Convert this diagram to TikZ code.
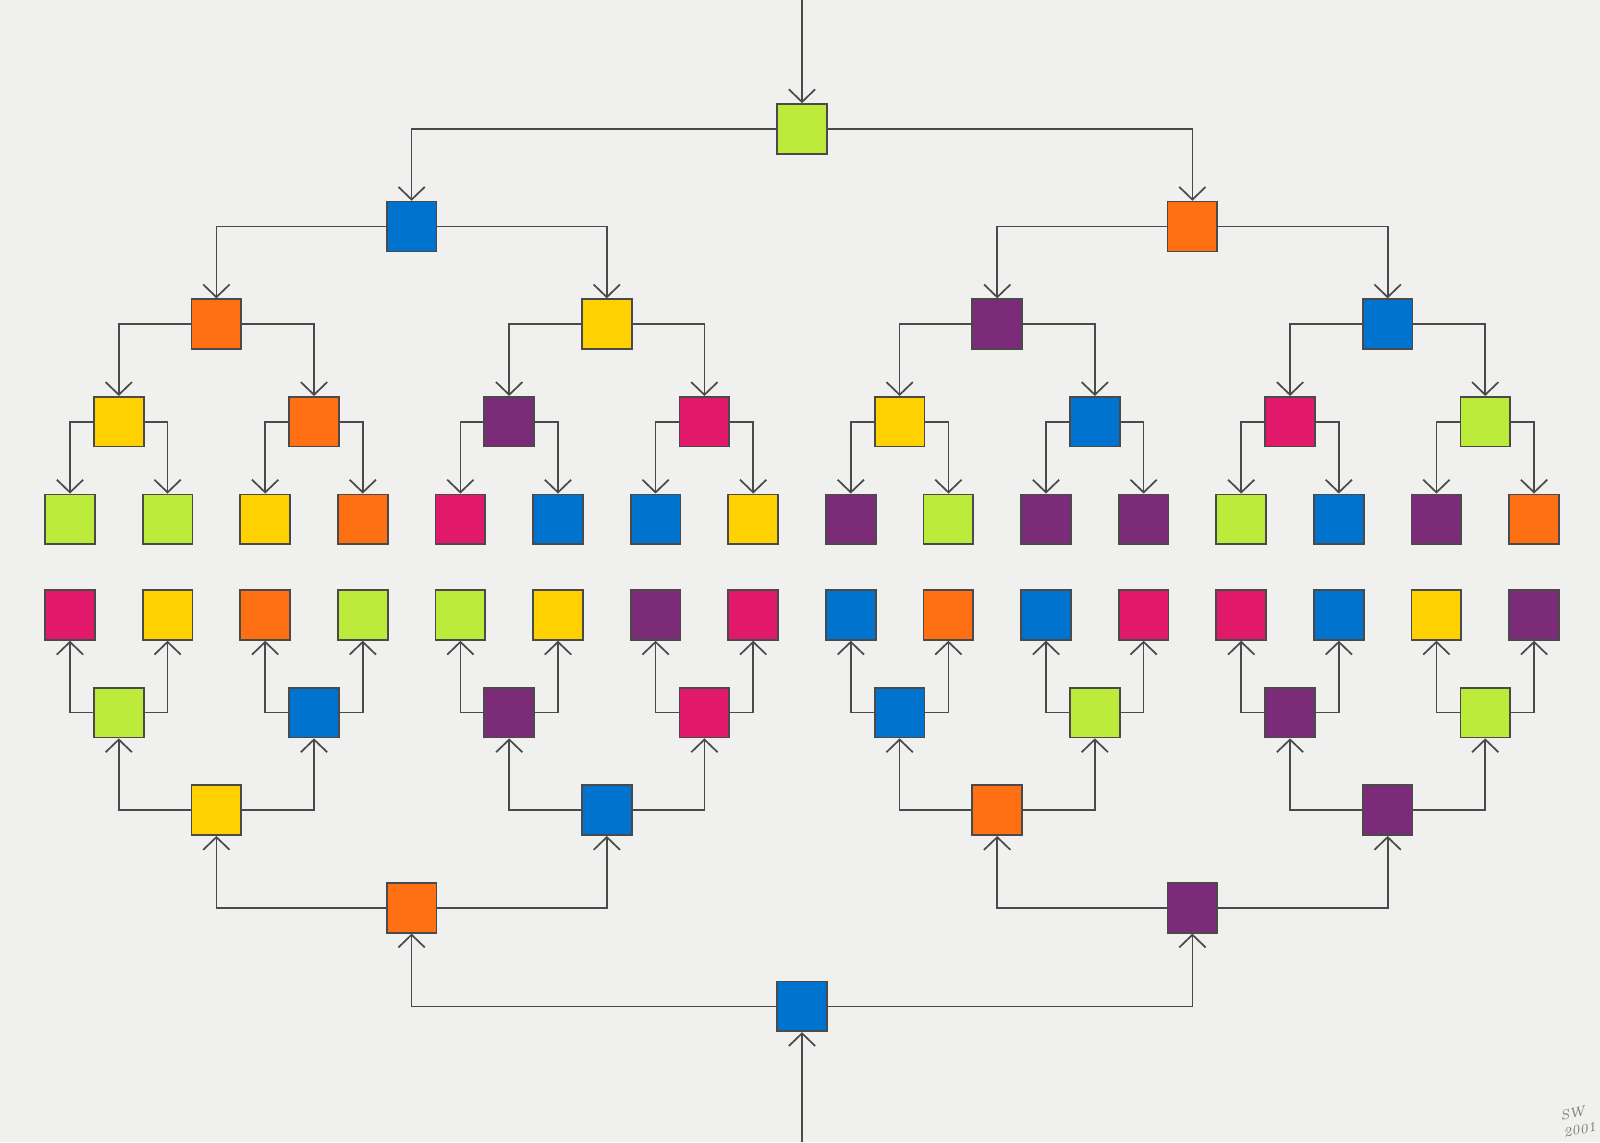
\documentclass[tikz,border=0pt]{standalone}
\usepackage{tikz}
\usetikzlibrary{arrows.meta,positioning,calc}

\definecolor{paper}{HTML}{F0F0EE}
\definecolor{ink}{HTML}{4A4A4A}
\definecolor{sqlime}{HTML}{BCEB3C}
\definecolor{sqblue}{HTML}{0073CF}
\definecolor{sqorange}{HTML}{FF7014}
\definecolor{sqyellow}{HTML}{FFD100}
\definecolor{sqpurple}{HTML}{7B2B78}
\definecolor{sqmagenta}{HTML}{E2196B}

\begin{document}
\begin{tikzpicture}[x=1cm, y=1cm, >={Straight Barb[length=1.3mm, width=2.7mm]}]
        \tikzstyle{tile}=[rectangle, draw=ink, line width=0.5pt, minimum size=0.51cm, inner sep=0pt]
        \tikzstyle{link}=[->, draw=ink, line width=0.5pt]

        % Paper
        \fill[paper] (0,0) rectangle (16.393,11.701);
        \useasboundingbox (0,0) rectangle (16.393,11.701);

        % Upper tree
        \node (t0-0) [tile, fill=sqlime] at (8.217,10.38) {};
        \foreach \c [count=\i from 0] in {sqblue,sqorange}
            \node (t1-\i) [tile, fill=\c] at ({4.217+8*\i},9.38) {};
        \foreach \c [count=\i from 0] in {sqorange,sqyellow,sqpurple,sqblue}
            \node (t2-\i) [tile, fill=\c] at ({2.217+4*\i},8.38) {};
        \foreach \c [count=\i from 0] in {sqyellow,sqorange,sqpurple,sqmagenta,sqyellow,sqblue,sqmagenta,sqlime}
            \node (t3-\i) [tile, fill=\c] at ({1.217+2*\i},7.38) {};
        \foreach \c [count=\i from 0] in {sqlime,sqlime,sqyellow,sqorange,sqmagenta,sqblue,sqblue,sqyellow,
                                          sqpurple,sqlime,sqpurple,sqpurple,sqlime,sqblue,sqpurple,sqorange}
            \node (t4-\i) [tile, fill=\c] at ({0.717+\i},6.38) {};

        % Lower tree
        \foreach \c [count=\i from 0] in {sqmagenta,sqyellow,sqorange,sqlime,sqlime,sqyellow,sqpurple,sqmagenta,
                                          sqblue,sqorange,sqblue,sqmagenta,sqmagenta,sqblue,sqyellow,sqpurple}
            \node (b4-\i) [tile, fill=\c] at ({0.717+\i},5.40) {};
        \foreach \c [count=\i from 0] in {sqlime,sqblue,sqpurple,sqmagenta,sqblue,sqlime,sqpurple,sqlime}
            \node (b3-\i) [tile, fill=\c] at ({1.217+2*\i},4.40) {};
        \foreach \c [count=\i from 0] in {sqyellow,sqblue,sqorange,sqpurple}
            \node (b2-\i) [tile, fill=\c] at ({2.217+4*\i},3.40) {};
        \foreach \c [count=\i from 0] in {sqorange,sqpurple}
            \node (b1-\i) [tile, fill=\c] at ({4.217+8*\i},2.40) {};
        \node (b0-0) [tile, fill=sqblue] at (8.217,1.39) {};

        % Entry and exit lines
        \coordinate (entry) at (8.217,11.701);
        \coordinate (source) at (8.217,0);
        \draw[link] (entry) -- (t0-0.north);
        \draw[link] (source) -- (b0-0.south);

        % Branches
        \foreach \d [evaluate=\d as \e using int(\d+1), evaluate=\d as \m using int(2^\d-1)] in {0,...,3} {
            \foreach \j [evaluate=\j as \l using int(2*\j), evaluate=\j as \r using int(2*\j+1)] in {0,...,\m} {
                \draw[link] (t\d-\j.west) -| (t\e-\l.north);
                \draw[link] (t\d-\j.east) -| (t\e-\r.north);
                \draw[link] (b\d-\j.west) -| (b\e-\l.south);
                \draw[link] (b\d-\j.east) -| (b\e-\r.south);
            }
        }

        % Signature
        \node (sig) [text=ink!75, rotate=12, font=\fontsize{4}{5.2}\selectfont\itshape, align=center] at (16.13,0.21) {SW\\\hspace*{2pt}2001};
    \end{tikzpicture}
\end{document}
